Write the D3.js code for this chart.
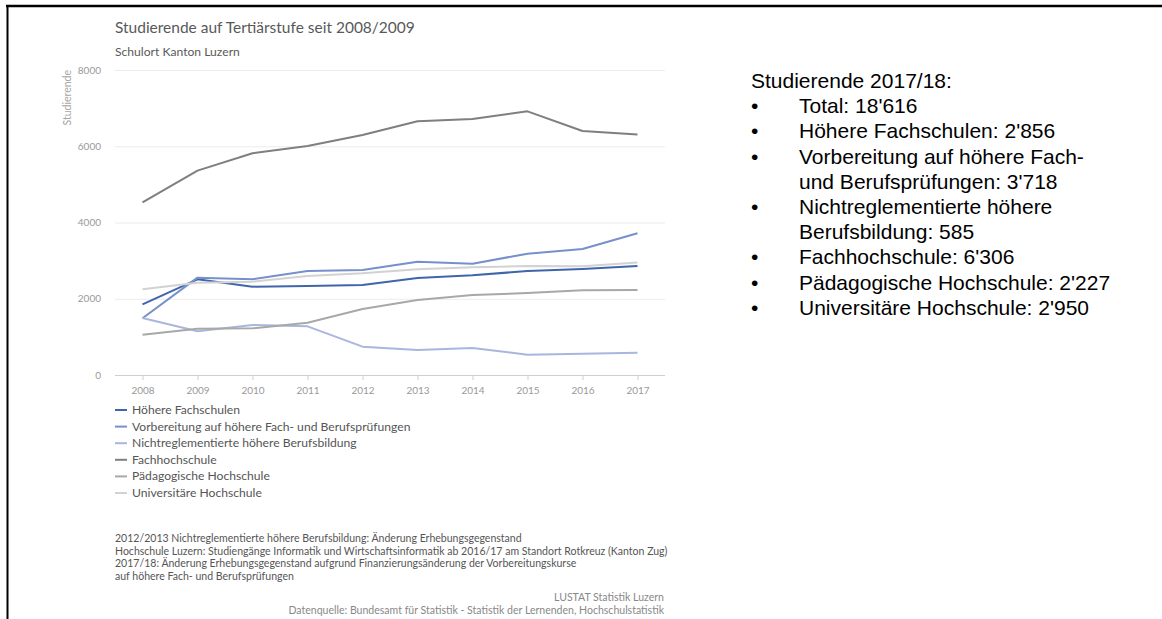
<!DOCTYPE html>
<html>
<head>
<meta charset="utf-8">
<script src="https://cdn.jsdelivr.net/npm/d3@7"></script>
<style>
  body { margin: 0; background: #fff; }
  svg { display: block; }
  .chart text { font-family: Lato, "Open Sans", sans-serif; }
</style>
</head>
<body>
<div id="chart"></div>
<script>
// data
let years = [2008, 2009, 2010, 2011, 2012, 2013, 2014, 2015, 2016, 2017];
let hoehereFachschulen = [1854, 2510, 2317, 2335, 2360, 2544, 2614, 2728, 2780, 2856];
let vorbereitung = [1490, 2553, 2510, 2728, 2754, 2973, 2920, 3182, 3305, 3718];
let nichtreglementiert = [1495, 1146, 1311, 1276, 743, 656, 708, 533, 559, 585];
let fachhochschule = [4530, 5360, 5815, 6007, 6295, 6654, 6715, 6916, 6400, 6306];
let paedagogische = [1057, 1215, 1224, 1372, 1731, 1967, 2098, 2150, 2221, 2227];
let universitaere = [2248, 2421, 2448, 2597, 2667, 2772, 2825, 2859, 2850, 2950];

let seriesNames = ["Höhere Fachschulen", "Vorbereitung auf höhere Fach- und Berufsprüfungen",
    "Nichtreglementierte höhere Berufsbildung", "Fachhochschule",
    "Pädagogische Hochschule", "Universitäre Hochschule"];
let seriesValues = [hoehereFachschulen, vorbereitung, nichtreglementiert, fachhochschule, paedagogische, universitaere];
let seriesColors = ["#3f65aa", "#7690cb", "#a9b6de", "#7f7f7f", "#a8a8a8", "#d2d2d2"];

let yTicks = [0, 2000, 4000, 6000, 8000];

let notes = [
    "2012/2013 Nichtreglementierte höhere Berufsbildung: Änderung Erhebungsgegenstand",
    "Hochschule Luzern: Studiengänge Informatik und Wirtschaftsinformatik ab 2016/17 am Standort Rotkreuz (Kanton Zug)",
    "2017/18: Änderung Erhebungsgegenstand aufgrund Finanzierungsänderung der Vorbereitungskurse",
    "auf höhere Fach- und Berufsprüfungen"
];
let footer = ["LUSTAT Statistik Luzern",
    "Datenquelle: Bundesamt für Statistik - Statistik der Lernenden, Hochschulstatistik"];

// side text: [text, has bullet]
let sideLines = [
    ["Studierende 2017/18:", false],
    ["Total: 18'616", true],
    ["Höhere Fachschulen: 2'856", true],
    ["Vorbereitung auf höhere Fach-", true],
    ["und Berufsprüfungen: 3'718", false],
    ["Nichtreglementierte höhere", true],
    ["Berufsbildung: 585", false],
    ["Fachhochschule: 6'306", true],
    ["Pädagogische Hochschule: 2'227", true],
    ["Universitäre Hochschule: 2'950", true]
];

let width = 1162, height = 619;

let svg = d3.select("#chart").append("svg")
    .attr("width", width)
    .attr("height", height);

// frame lines (top and left)
svg.append("line").attr("x1", 6).attr("x2", width).attr("y1", 6).attr("y2", 6)
    .attr("stroke", "#000").attr("stroke-width", 2.5);
svg.append("line").attr("x1", 7.5).attr("x2", 7.5).attr("y1", 5).attr("y2", height)
    .attr("stroke", "#000").attr("stroke-width", 2);

let chart = svg.append("g").attr("class", "chart");

// shrink/grow a text so that it is as wide as given
function fitText(sel, target) {
    let size = parseFloat(sel.style("font-size"));
    let w = sel.node().getComputedTextLength();
    let s = size * target / w;
    sel.style("font-size", s + "px");
    return s;
}

let x = d3.scalePoint().domain(years).range([115, 665]).padding(0.5);
let y = d3.scaleLinear().domain([0, 8000]).range([375, 70]);

// title
let title = chart.append("text").attr("x", 115).attr("y", 33)
    .attr("fill", "#595959").style("font-size", "16px")
    .text("Studierende auf Tertiärstufe seit 2008/2009");
fitText(title, 300);
let sub = chart.append("text").attr("x", 115).attr("y", 56)
    .attr("fill", "#595959").style("font-size", "11px")
    .text("Schulort Kanton Luzern");
fitText(sub, 125);

// grid
chart.append("g").selectAll("line").data(yTicks.slice(1)).join("line")
    .attr("x1", 115).attr("x2", 665)
    .attr("y1", d => y(d) + 0.5).attr("y2", d => y(d) + 0.5)
    .attr("stroke", "#ececec").attr("stroke-width", 1);

// y axis labels
let yAxis = chart.append("g").attr("transform", "translate(101,0)")
    .call(d3.axisLeft(y).tickValues(yTicks).tickSize(0).tickPadding(0).tickFormat(d3.format("d")));
yAxis.select(".domain").remove();
yAxis.selectAll("text").attr("fill", "#999").style("font-size", "10px")
    .style("font-family", "Lato, sans-serif");

chart.append("text")
    .attr("transform", "translate(71,70) rotate(-90)")
    .attr("text-anchor", "end")
    .attr("fill", "#a6a6a6").style("font-size", "10.5px")
    .text("Studierende");

// x axis
let xAxis = chart.append("g").attr("transform", `translate(0,${y(0)})`)
    .call(d3.axisBottom(x).tickSize(5).tickPadding(7).tickFormat(d3.format("d")));
xAxis.select(".domain").attr("d", "M115,0.5H665").attr("stroke", "#cfcfcf");
xAxis.selectAll(".tick line").attr("stroke", "#cfcfcf");
xAxis.selectAll("text").attr("fill", "#999").style("font-size", "10px")
    .style("font-family", "Lato, sans-serif");

// lines
let line = d3.line().x((d, i) => x(years[i])).y(d => y(d));
chart.append("g").selectAll("path").data(seriesValues).join("path")
    .attr("d", line)
    .attr("fill", "none")
    .attr("stroke", (d, i) => seriesColors[i])
    .attr("stroke-width", 2)
    .attr("stroke-linejoin", "round");

// legend
let legend = chart.append("g").selectAll("g").data(seriesNames).join("g")
    .attr("transform", (d, i) => `translate(115,${410 + i * 16.6})`);
legend.append("line").attr("x1", 0).attr("x2", 12).attr("y1", 0).attr("y2", 0)
    .attr("stroke", (d, i) => seriesColors[i]).attr("stroke-width", 2);
legend.append("text").attr("x", 17).attr("y", 4)
    .attr("fill", "#555").style("font-size", "11px")
    .text(d => d);
let legSize = fitText(legend.filter((d, i) => i === 1).select("text"), 279);
legend.selectAll("text").style("font-size", legSize + "px");

// notes
let noteText = chart.append("g").selectAll("text").data(notes).join("text")
    .attr("x", 115).attr("y", (d, i) => 542 + i * 12.7)
    .attr("fill", "#555").style("font-size", "9.5px")
    .text(d => d);
let noteSize = fitText(noteText.filter((d, i) => i === 1), 553);
noteText.style("font-size", noteSize + "px");

chart.append("g").selectAll("text").data(footer).join("text")
    .attr("x", 664).attr("y", (d, i) => 601 + i * 12.5)
    .attr("text-anchor", "end")
    .attr("fill", "#888").style("font-size", noteSize + "px")
    .text(d => d);

// side text block
let side = svg.append("g").attr("font-family", "'Liberation Sans', Arial, sans-serif")
    .attr("font-size", 21).attr("fill", "#000");
let rows = side.selectAll("g").data(sideLines).join("g")
    .attr("transform", (d, i) => `translate(0,${88 + i * 25.2})`);
rows.append("text")
    .attr("x", (d, i) => i === 0 ? 751 : 799)
    .text(d => d[0]);
rows.filter(d => d[1]).append("text")
    .attr("x", 751)
    .text("•");
</script>
</body>
</html>
